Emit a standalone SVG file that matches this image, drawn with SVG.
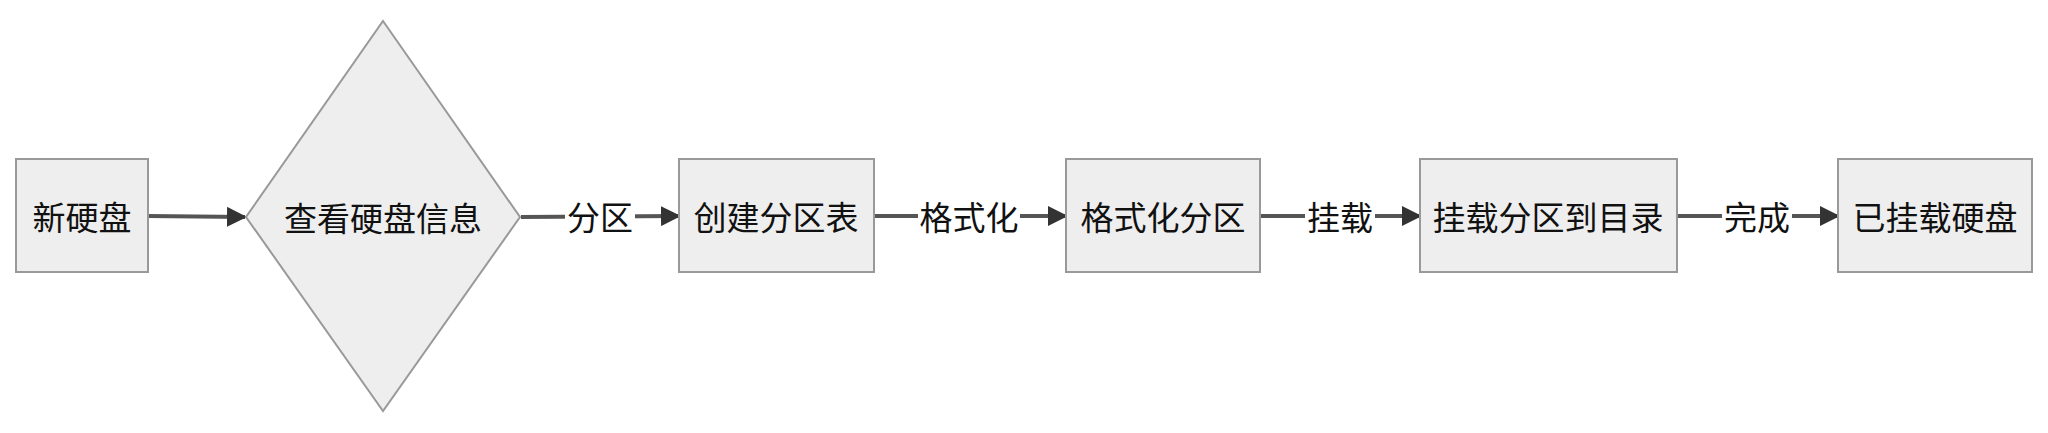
<svg xmlns="http://www.w3.org/2000/svg" width="2048" height="433" viewBox="0 0 2048 433">
<style>
.n{fill:#eeeeee;stroke:#999999;stroke-width:2}
.t{font-family:"Noto Sans CJK SC",sans-serif;font-size:33px;fill:#111;text-anchor:middle;dominant-baseline:central}
.e{stroke:#555;stroke-width:4;fill:none;marker-end:url(#a)}
.lb{fill:#fff}
</style>
<defs><marker id="a" markerWidth="20" markerHeight="20" refX="18" refY="10" orient="auto" markerUnits="userSpaceOnUse"><path d="M0,0L20,10L0,20Z" fill="#333"/></marker></defs>
<g id="edges">
<path class="e" d="M148,216L245,217"/>
<path class="e" d="M521,217L679,216"/>
<path class="e" d="M874,216L1066,216"/>
<path class="e" d="M1260,216L1420,216"/>
<path class="e" d="M1677,216L1838,216"/>
<rect class="lb" x="565" y="196" width="70" height="40"/><text class="t" x="600" y="216">分区</text>
<rect class="lb" x="918" y="196" width="102" height="40"/><text class="t" x="969" y="216">格式化</text>
<rect class="lb" x="1305" y="196" width="70" height="40"/><text class="t" x="1340" y="216">挂载</text>
<rect class="lb" x="1722" y="196" width="70" height="40"/><text class="t" x="1757" y="216">完成</text>
</g>
<g id="n1"><rect class="n" x="16" y="159" width="132" height="113"/><text class="t" x="82" y="216">新硬盘</text></g>
<g id="n2"><path class="n" d="M383,21L520,217L383,411L246,217Z"/><text class="t" x="383" y="217">查看硬盘信息</text></g>
<g id="n3"><rect class="n" x="679" y="159" width="195" height="113"/><text class="t" x="776" y="216">创建分区表</text></g>
<g id="n4"><rect class="n" x="1066" y="159" width="194" height="113"/><text class="t" x="1163" y="216">格式化分区</text></g>
<g id="n5"><rect class="n" x="1420" y="159" width="257" height="113"/><text class="t" x="1548" y="216">挂载分区到目录</text></g>
<g id="n6"><rect class="n" x="1838" y="159" width="194" height="113"/><text class="t" x="1935" y="216">已挂载硬盘</text></g>
</svg>
